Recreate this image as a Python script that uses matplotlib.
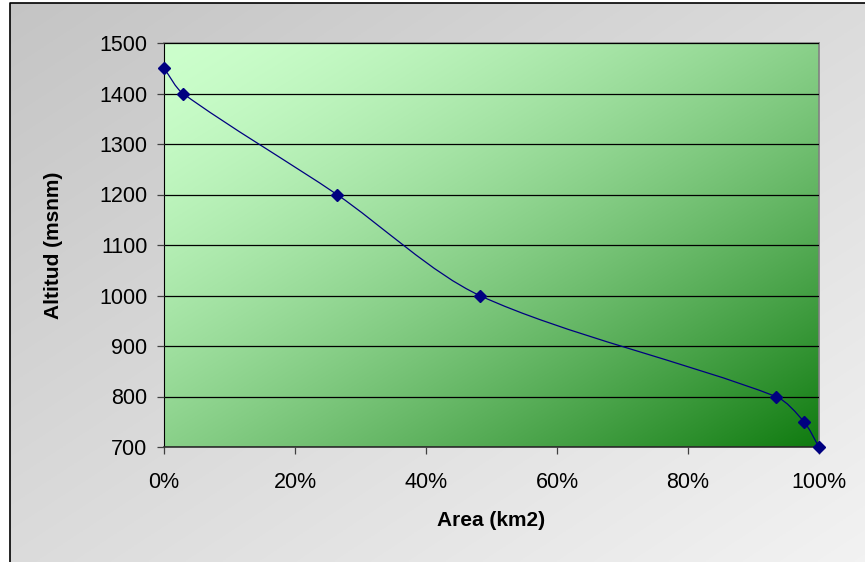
import numpy as np
import matplotlib
matplotlib.use("Agg")
import matplotlib.pyplot as plt
import matplotlib.ticker as mtick
from matplotlib.path import Path
from matplotlib.patches import PathPatch

# hypsometric curve: share of basin area above each altitude
area_frac = [0.0, 0.029, 0.264, 0.482, 0.934, 0.977, 1.0]
altitude = [1450, 1400, 1200, 1000, 800, 750, 700]

y_ticks = [700, 800, 900, 1000, 1100, 1200, 1300, 1400, 1500]
x_ticks = [0.0, 0.2, 0.4, 0.6, 0.8, 1.0]

plt.rcParams['font.family'] = ['Liberation Sans', 'DejaVu Sans']


def diag_gradient(c0, c1, nx=400, ny=260, power=1.0):
    u = np.linspace(0, 1, nx)[None, :]
    v = np.linspace(0, 1, ny)[:, None]
    t = ((u + v) / 2.0) ** power
    c0 = np.array(c0)[None, None, :]
    c1 = np.array(c1)[None, None, :]
    return c0 + (c1 - c0) * t[..., None]


def smooth_path(xs, ys, sx, sy):
    # smoothed line like Excel: cubic bezier, tangents from neighbours,
    # handle length tied to the segment length (worked out in pixel space)
    pts = np.column_stack([np.asarray(xs) * sx, np.asarray(ys) * sy]).astype(float)
    n = len(pts)
    verts = [pts[0]]
    codes = [Path.MOVETO]
    for i in range(n - 1):
        p0 = pts[i - 1] if i > 0 else pts[i]
        p1 = pts[i]
        p2 = pts[i + 1]
        p3 = pts[i + 2] if i + 2 < n else pts[i + 1]
        d = np.hypot(*(p2 - p1))
        t1 = p2 - p0
        t2 = p3 - p1
        t1 = t1 / np.hypot(*t1)
        t2 = t2 / np.hypot(*t2)
        c1 = p1 + t1 * d * 0.3
        c2 = p2 - t2 * d * 0.3
        verts += [c1, c2, p2]
        codes += [Path.CURVE4] * 3
    verts = np.array(verts)
    verts[:, 0] /= sx
    verts[:, 1] /= sy
    return Path(verts, codes)


fig = plt.figure(figsize=(8.65, 5.62), dpi=100)
fig.patch.set_facecolor('white')

# chart area background (grey gradient with black frame)
bg = fig.add_axes([10 / 865, 0, 1 - 10 / 865, 1 - 3 / 562])
bg.imshow(diag_gradient([0.77, 0.77, 0.77], [0.95, 0.95, 0.95]),
          extent=[0, 1, 0, 1], aspect='auto', origin='upper')
bg.set_xlim(0, 1)
bg.set_ylim(0, 1)
bg.axis('off')
bg.plot([0, 0, 1], [0, 1, 1], color='black', lw=1.2, clip_on=False)

ax = fig.add_axes([164 / 865, 1 - 447 / 562, 655 / 865, 404 / 562])
ax.imshow(diag_gradient([0.80, 1.0, 0.80], [0.06, 0.48, 0.06], power=1.5),
          extent=[0, 1, 0, 1], aspect='auto', origin='upper',
          transform=ax.transAxes, zorder=0)

ax.set_xlim(0, 1)
ax.set_ylim(700, 1500)
ax.set_yticks(y_ticks)
ax.set_xticks(x_ticks)
ax.xaxis.set_major_formatter(mtick.PercentFormatter(1.0, decimals=0))

ax.grid(axis='y', color='black', lw=0.9, zorder=1)
ax.set_axisbelow(False)

line = PathPatch(smooth_path(area_frac, altitude, 655.0, 404 / 800), facecolor='none',
                 edgecolor='#000080', lw=0.9, zorder=3)
ax.add_patch(line)
ax.plot(area_frac, altitude, linestyle='none', marker='D', markersize=6.5,
        color='#000080', zorder=4, clip_on=False)

for side in ['top', 'right']:
    ax.spines[side].set_color('#808080')
    ax.spines[side].set_linewidth(1.2)
ax.spines['left'].set_color('black')
ax.spines['bottom'].set_color('#303030')
ax.spines['bottom'].set_linewidth(1.2)

ax.tick_params(axis='y', direction='out', length=5, width=0.9, pad=7,
               labelsize=15.5, color='#404040')
ax.tick_params(axis='x', direction='out', length=5, width=0.9, pad=13,
               labelsize=15.5, color='#404040')

ax.set_xlabel('Area (km2)', fontsize=15, fontweight='bold', labelpad=13)
ax.set_ylabel('Altitud (msnm)', fontsize=15, fontweight='bold', labelpad=26)

fig.savefig('out.png', dpi=100)
